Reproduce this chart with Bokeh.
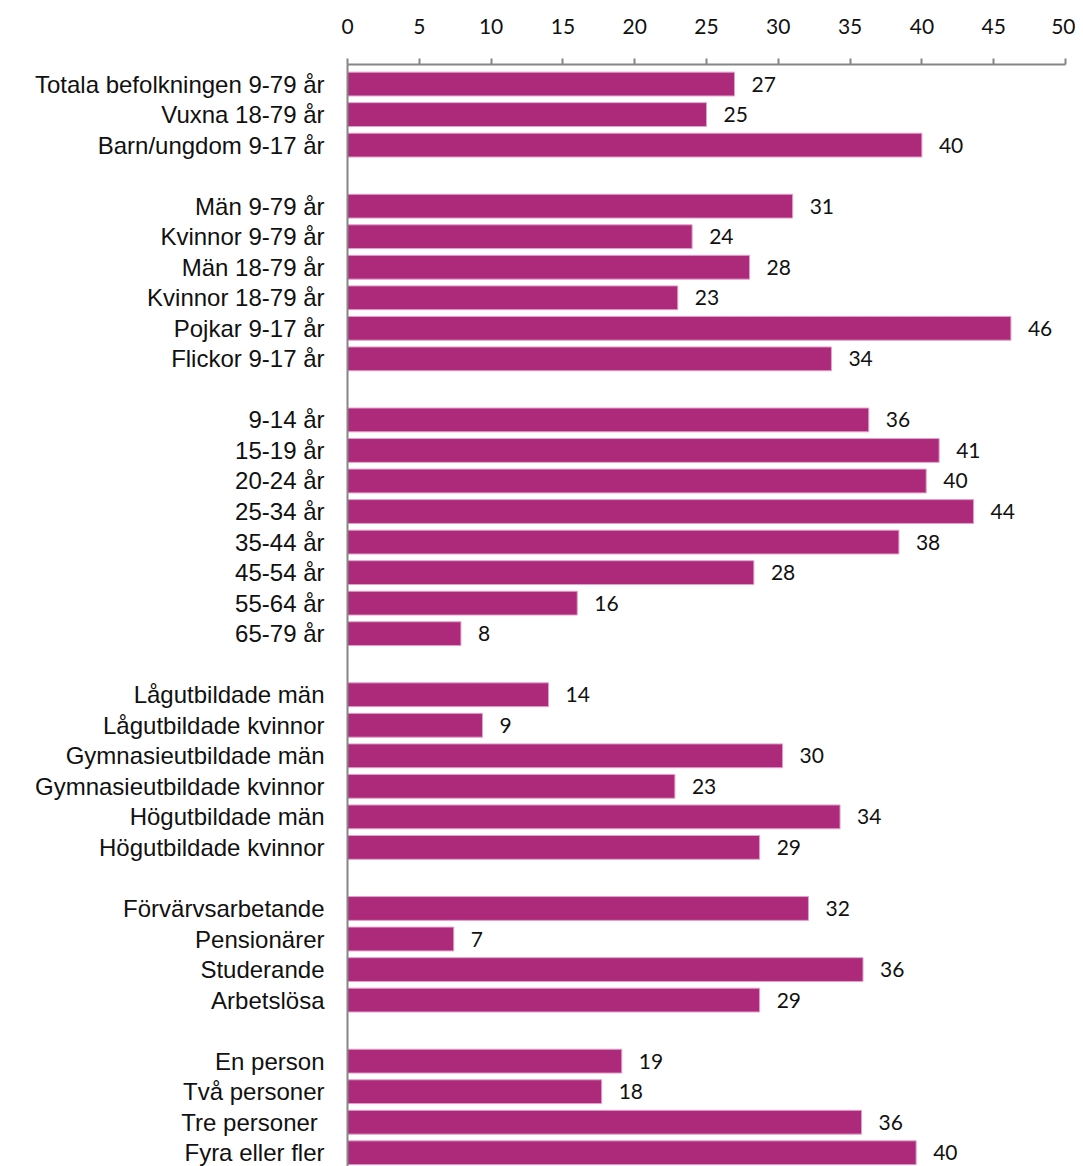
from bokeh.plotting import figure
from bokeh.models import ColumnDataSource, LinearAxis, FixedTicker, Range1d, LabelSet
from bokeh.core.properties import value
from bokeh.embed import file_html
from bokeh.resources import INLINE

# Categories in display order ("" = blank separator row)
categories = [
    "Totala befolkningen 9-79 år", "Vuxna 18-79 år", "Barn/ungdom 9-17 år", "",
    "Män 9-79 år", "Kvinnor 9-79 år", "Män 18-79 år", "Kvinnor 18-79 år",
    "Pojkar 9-17 år", "Flickor 9-17 år", "",
    "9-14 år", "15-19 år", "20-24 år", "25-34 år", "35-44 år", "45-54 år",
    "55-64 år", "65-79 år", "",
    "Lågutbildade män", "Lågutbildade kvinnor", "Gymnasieutbildade män",
    "Gymnasieutbildade kvinnor", "Högutbildade män", "Högutbildade kvinnor", "",
    "Förvärvsarbetande", "Pensionärer", "Studerande", "Arbetslösa", "",
    "En person", "Två personer", "Tre  personer", "Fyra eller fler",
]
values = [
    26.95, 25.0, 40.0, None,
    31.0, 24.0, 28.0, 23.0, 46.2, 33.7, None,
    36.3, 41.2, 40.3, 43.6, 38.4, 28.3, 16.0, 7.9, None,
    14.0, 9.4, 30.3, 22.8, 34.3, 28.7, None,
    32.1, 7.4, 35.9, 28.7, None,
    19.1, 17.7, 35.8, 39.6,
]
x_ticks = [0, 5, 10, 15, 20, 25, 30, 35, 40, 45, 50]

rows = [-i for i in range(len(categories))]
ys = [r for r, v in zip(rows, values) if v is not None]
vs = [v for v in values if v is not None]
labels = [str(int(round(v))) for v in vs]
src = ColumnDataSource(dict(y=ys, v=vs, lab=labels))

n = len(categories)
p = figure(width=1075, height=1166, output_backend="svg", toolbar_location=None,
           x_range=Range1d(0, 50), y_range=Range1d(-(n - 1) - 0.45, 0.64),
           x_axis_location=None, y_axis_location=None,
           min_border_left=347, min_border_right=10, min_border_top=64,
           min_border_bottom=0)
p.outline_line_color = None
p.grid.visible = False
p.background_fill_color = "white"

p.hbar(y="y", right="v", left=0, height=0.78, source=src,
       fill_color="#AD2A7B", line_color="#E2A2CB", line_width=1)

lab = LabelSet(x="v", y="y", text="lab", source=src, x_offset=17, y_offset=0,
               text_baseline="middle", text_align="left",
               text_font=value("Lato"), text_font_size=value("21px"),
               text_color=value("#111111"))
p.add_layout(lab)

xa = LinearAxis(ticker=FixedTicker(ticks=x_ticks))
xa.axis_line_color = "#868686"
xa.axis_line_width = 2
xa.major_tick_line_color = "#868686"
xa.major_tick_line_width = 2
xa.major_tick_out = 6
xa.major_tick_in = 0
xa.minor_tick_line_color = None
xa.major_label_standoff = 25
xa.major_label_text_font = "Lato"
xa.major_label_text_font_size = "21px"
xa.major_label_text_color = "#111111"
p.add_layout(xa, "above")

ya = LinearAxis(ticker=FixedTicker(ticks=[r for r, c in zip(rows, categories) if c]))
ya.major_label_overrides = {r: c for r, c in zip(rows, categories) if c}
ya.axis_line_color = "#868686"
ya.axis_line_width = 2
ya.major_tick_line_color = None
ya.minor_tick_line_color = None
ya.major_tick_out = 0
ya.major_tick_in = 0
ya.major_label_standoff = 23
ya.major_label_text_font = "Liberation Sans"
ya.major_label_text_font_size = "24px"
ya.major_label_text_color = "#111111"
p.add_layout(ya, "left")

open("out.html", "w").write(file_html(p, INLINE))
